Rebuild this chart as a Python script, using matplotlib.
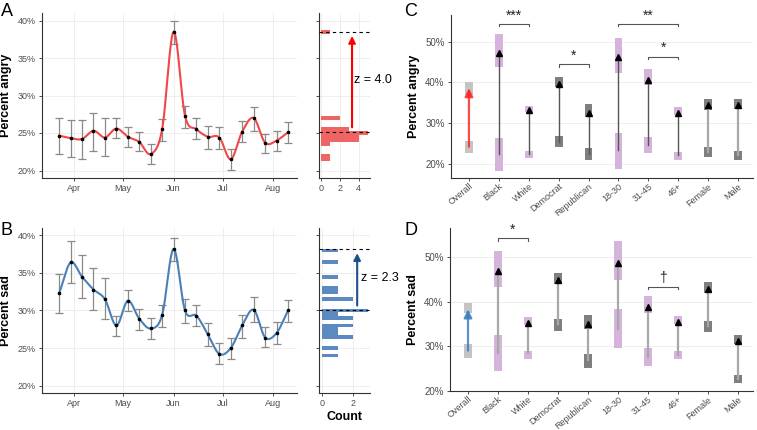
import numpy as np
import pandas as pd
import matplotlib
matplotlib.use("Agg")
import matplotlib.pyplot as plt
import matplotlib.dates as mdates
from matplotlib.ticker import FuncFormatter

plt.rcParams['font.family'] = ['Liberation Sans', 'DejaVu Sans']

# weekly estimates (panels A, B)
week_dates = ["2020-03-23", "2020-03-30", "2020-04-06", "2020-04-13", "2020-04-20", "2020-04-27",
              "2020-05-04", "2020-05-11", "2020-05-18", "2020-05-25", "2020-06-01", "2020-06-08",
              "2020-06-15", "2020-06-22", "2020-06-29", "2020-07-06", "2020-07-13", "2020-07-20",
              "2020-07-27", "2020-08-03", "2020-08-10"]
angry_pct = [24.65, 24.3, 24.2, 25.3, 24.4, 25.6, 24.5, 23.8, 22.2, 25.5, 38.5,
             27.3, 25.5, 24.5, 24.4, 21.5, 25.2, 27.0, 23.7, 24.0, 25.1]
angry_lo = [22.2, 21.8, 21.6, 22.6, 21.9, 24.3, 23.1, 22.6, 20.9, 24.0, 36.9,
            25.7, 24.2, 22.9, 22.9, 20.1, 23.8, 25.3, 22.4, 22.6, 23.7]
angry_hi = [27.0, 26.8, 26.7, 27.7, 27.0, 27.0, 25.8, 25.1, 23.5, 26.9, 40.0,
            28.6, 27.0, 25.9, 25.8, 22.9, 26.6, 28.5, 24.9, 25.3, 26.5]
sad_pct = [32.3, 36.4, 34.5, 32.8, 31.5, 28.0, 31.3, 28.9, 27.6, 29.4, 38.2,
           30.0, 29.3, 26.8, 24.2, 25.0, 28.0, 30.1, 26.4, 27.0, 30.0]
sad_lo = [29.7, 33.6, 31.7, 30.1, 28.8, 26.6, 29.9, 27.4, 26.2, 27.8, 36.6,
          28.4, 27.9, 25.3, 22.8, 23.5, 26.4, 28.5, 25.1, 25.5, 28.5]
sad_hi = [34.8, 39.2, 37.4, 35.6, 34.3, 29.2, 32.8, 30.2, 29.0, 30.7, 39.7,
          31.5, 30.7, 28.3, 25.6, 26.4, 29.4, 31.8, 27.8, 28.5, 31.4]

# histograms of weekly values (bin centres, 0.5-point bins)
angry_bins = [38.5, 27.0, 25.5, 25.0, 24.5, 24.0, 23.5, 22.0, 21.5]
angry_counts = [1, 2, 3, 5, 4, 4, 1, 1, 1]
sad_bins = [38.0, 36.5, 34.5, 33.0, 32.5, 31.5, 30.0, 29.5, 29.0, 28.0, 27.5, 27.0, 26.5, 25.0, 24.0]
sad_counts = [1, 1, 1, 1, 1, 2, 3, 1, 2, 2, 1, 1, 2, 1, 1]
angry_peak, angry_base, angry_z = 38.5, 25.2, "z = 4.0"
sad_peak, sad_base, sad_z = 38.2, 30.1, "z = 2.3"

# before / after by group (panels C, D)
groups = ["Overall", "Black", "White", "Democrat", "Republican", "18-30", "31-45", "46+", "Female", "Male"]
group_kind = ["overall", "race", "race", "party", "party", "age", "age", "age", "gender", "gender"]

angry_before = [24.25, 22.5, 22.5, 25.5, 22.5, 23.4, 24.7, 22.2, 23.0, 22.2]
angry_before_lo = [22.6, 18.4, 21.6, 24.3, 21.0, 18.9, 22.8, 21.1, 21.7, 21.1]
angry_before_hi = [25.7, 26.5, 23.2, 26.8, 24.0, 27.5, 26.7, 22.9, 24.2, 23.3]
angry_after = [38.6, 47.3, 33.2, 39.6, 32.6, 46.1, 40.6, 32.6, 34.5, 34.5]
angry_after_lo = [36.9, 43.7, 32.8, 38.8, 31.6, 42.2, 39.3, 31.9, 33.2, 33.6]
angry_after_hi = [40.2, 51.9, 34.3, 41.4, 34.6, 50.9, 43.2, 33.9, 36.0, 36.0]
angry_change_sig = [True, True, True, True, True, True, True, True, False, False]
angry_brackets = [("Black", "White", 54.3, "***"), ("Democrat", "Republican", 44.4, "*"),
                  ("18-30", "46+", 54.3, "**"), ("31-45", "46+", 46.3, "*")]

sad_before = [29.0, 28.4, 28.4, 35.0, 26.8, 33.8, 27.5, 28.0, 34.6, 22.7]
sad_before_lo = [27.3, 24.4, 27.1, 33.5, 25.1, 29.5, 25.6, 27.1, 33.1, 21.6]
sad_before_hi = [30.5, 32.4, 28.8, 36.0, 28.3, 38.3, 29.5, 28.9, 35.6, 23.4]
sad_after = [38.3, 46.9, 35.2, 44.8, 35.0, 48.7, 38.9, 35.5, 42.9, 31.2]
sad_after_lo = [37.5, 43.4, 34.8, 44.1, 33.8, 44.9, 37.5, 35.0, 42.0, 30.5]
sad_after_hi = [39.7, 51.5, 36.5, 46.5, 37.0, 53.6, 41.4, 36.8, 44.5, 32.6]
sad_change_sig = [False] * 10
sad_brackets = [("Black", "White", 54.3, "*"), ("31-45", "46+", 43.4, "\u2020")]

KIND_COLORS = {"overall": "#c4c4c4", "race": "#d4b4da", "age": "#d4b4da",
               "party": "#7f7f7f", "gender": "#7f7f7f"}
AXIS_COL = "#333333"
TICK_COL = "#4d4d4d"
GRID_COL = "#ebebeb"

W, H = 757, 430
fig = plt.figure(figsize=(W / 100, H / 100), dpi=100)


def px_axes(x0, y0, x1, y1):
    """Axes from pixel box, y measured from the top."""
    return fig.add_axes([x0 / W, (H - y1) / H, (x1 - x0) / W, (y1 - y0) / H])


def style_axes(ax, labelsize=6.5):
    for s in ["top", "right"]:
        ax.spines[s].set_visible(False)
    for s in ["left", "bottom"]:
        ax.spines[s].set_color(AXIS_COL)
        ax.spines[s].set_linewidth(0.8)
    ax.tick_params(labelsize=labelsize, labelcolor=TICK_COL, color=AXIS_COL,
                   length=2.5, width=0.6, pad=2)
    ax.set_axisbelow(True)


def catmull_rom(xs, ys, steps=20):
    xs = np.asarray(xs, float)
    ys = np.asarray(ys, float)
    px = np.concatenate([[2 * xs[0] - xs[1]], xs, [2 * xs[-1] - xs[-2]]])
    py = np.concatenate([[2 * ys[0] - ys[1]], ys, [2 * ys[-1] - ys[-2]]])
    t = np.linspace(0, 1, steps, endpoint=False)
    cx, cy = [], []
    for i in range(1, len(px) - 2):
        for p, out in ((px, cx), (py, cy)):
            p0, p1, p2, p3 = p[i - 1], p[i], p[i + 1], p[i + 2]
            out.append(0.5 * (2 * p1 + (-p0 + p2) * t + (2 * p0 - 5 * p1 + 4 * p2 - p3) * t ** 2
                              + (-p0 + 3 * p1 - 3 * p2 + p3) * t ** 3))
    cx.append([xs[-1]])
    cy.append([ys[-1]])
    return np.concatenate(cx), np.concatenate(cy)


pct_fmt = FuncFormatter(lambda v, _: f"{v:.0f}%")


def plot_weekly(ax, pct, lo, hi, line_color, ylabel):
    dates = pd.to_datetime(week_dates)
    pct = np.array(pct)
    ax.errorbar(dates, pct, yerr=[pct - np.array(lo), np.array(hi) - pct], fmt="none",
                ecolor="#8a8a8a", elinewidth=0.9, capsize=3.2, capthick=0.9, zorder=2)
    sx, sy = catmull_rom(mdates.date2num(dates), pct)
    ax.plot(mdates.num2date(sx), sy, color=line_color, lw=1.5, zorder=3)
    ax.plot(dates, pct, "o", ms=1.6, color="black", zorder=4)
    ax.set_xlim(pd.Timestamp("2020-03-12 12:00"), pd.Timestamp("2020-08-15 12:00"))
    ax.set_ylim(19.0, 41.0)
    ax.set_yticks([20, 25, 30, 35, 40])
    ax.yaxis.set_major_formatter(pct_fmt)
    ax.xaxis.set_major_locator(mdates.MonthLocator(bymonth=[4, 5, 6, 7, 8]))
    ax.xaxis.set_major_formatter(mdates.DateFormatter("%b"))
    ax.grid(True, color=GRID_COL, lw=0.6)
    style_axes(ax)
    ax.set_ylabel(ylabel, fontsize=9, fontweight="bold", labelpad=4)


def plot_hist(ax, bins, counts, bar_color, peak, base, arrow_color, arrow_x, ztext, xmax, xticks):
    ax.barh(bins, counts, height=0.5, color=bar_color, zorder=2)
    ax.axhline(peak, color="black", ls=(0, (3, 3)), lw=0.8, zorder=3)
    ax.axhline(base, color="black", ls=(0, (3, 3)), lw=0.8, zorder=3)
    ax.annotate("", xy=(arrow_x, peak), xytext=(arrow_x, base),
                arrowprops=dict(arrowstyle="-|>", color=arrow_color, lw=1.5,
                                mutation_scale=10, shrinkA=3, shrinkB=3), zorder=4)
    ax.text(arrow_x + 0.25, (peak + base) / 2 + 0.2, ztext, fontsize=9, ha="left", va="center",
            clip_on=False)
    ax.set_ylim(19.0, 41.0)
    ax.set_xlim(-0.2, xmax)
    ax.set_yticks([20, 25, 30, 35, 40])
    ax.set_yticklabels([])
    ax.set_xticks(xticks)
    ax.grid(True, color=GRID_COL, lw=0.6)
    style_axes(ax)


def plot_groups(ax, before, b_lo, b_hi, after, a_lo, a_hi, sig, arrow_color, brackets, ylabel, ylim):
    xs = np.arange(1, len(groups) + 1)
    for i, x in enumerate(xs):
        col = KIND_COLORS[group_kind[i]]
        ax.bar(x, b_hi[i] - b_lo[i], bottom=b_lo[i], width=0.26, color=col, zorder=2)
        ax.bar(x, a_hi[i] - a_lo[i], bottom=a_lo[i], width=0.26, color=col, zorder=2)
        if group_kind[i] == "overall":
            ax.annotate("", xy=(x, after[i]), xytext=(x, before[i]),
                        arrowprops=dict(arrowstyle="-|>", color=arrow_color, lw=1.6,
                                        mutation_scale=12, shrinkA=0, shrinkB=0, alpha=0.85),
                        zorder=3)
        else:
            if sig[i]:
                ax.plot([x, x], [before[i], after[i]], color="#555555", lw=1.0, zorder=3)
            else:
                ax.plot([x, x], [before[i], after[i]], color="#a8a8a8", lw=1.6, zorder=3)
            ax.plot(x, after[i], "^", ms=4.2, color="black", zorder=4)
    for g1, g2, y, label in brackets:
        x1 = groups.index(g1) + 1
        x2 = groups.index(g2) + 1
        ax.plot([x1, x1, x2, x2], [y - 0.6, y, y, y - 0.6], color="#555555", lw=0.8, zorder=3)
        ax.text((x1 + x2) / 2, y + 0.4, label, ha="center", va="bottom", fontsize=10,
                color="#222222")
    ax.set_xlim(0.4, 10.5)
    ax.set_ylim(*ylim)
    ax.set_xticks(xs)
    ax.set_xticklabels(groups, rotation=40, ha="right", va="top", rotation_mode="anchor")
    ax.set_yticks([20, 30, 40, 50])
    ax.yaxis.set_major_formatter(pct_fmt)
    ax.yaxis.grid(True, color=GRID_COL, lw=0.6)
    style_axes(ax, labelsize=6.5)
    ax.tick_params(axis="x", length=2, pad=0.8)
    ax.tick_params(axis="y", labelsize=7)
    ax.set_ylabel(ylabel, fontsize=9, fontweight="bold", labelpad=4)


ax_a = px_axes(42, 13, 297, 178)
plot_weekly(ax_a, angry_pct, angry_lo, angry_hi, "#f04848", "Percent angry")
ax_ah = px_axes(319, 13, 370, 178)
plot_hist(ax_ah, angry_bins, angry_counts, "#f16464", angry_peak, angry_base, "#ff0000",
          3.3, angry_z, 5.2, [0, 2, 4])

ax_b = px_axes(42, 228, 297, 393)
plot_weekly(ax_b, sad_pct, sad_lo, sad_hi, "#4a80b8", "Percent sad")
ax_bh = px_axes(319, 228, 370, 393)
plot_hist(ax_bh, sad_bins, sad_counts, "#5b89c0", sad_peak, sad_base, "#1f4e8c",
          2.27, sad_z, 3.1, [0, 2])
ax_bh.set_xlabel("Count", fontsize=9, fontweight="bold", labelpad=2)

ax_c = px_axes(451, 15, 753, 178)
plot_groups(ax_c, angry_before, angry_before_lo, angry_before_hi, angry_after, angry_after_lo,
            angry_after_hi, angry_change_sig, "#ff2a2a", angry_brackets, "Percent angry", (16.6, 56.5))
ax_d = px_axes(450, 228, 753, 391)
plot_groups(ax_d, sad_before, sad_before_lo, sad_before_hi, sad_after, sad_after_lo,
            sad_after_hi, sad_change_sig, "#3f7fc0", sad_brackets, "Percent sad", (19.9, 56.6))

for letter, x, y in [("A", 1, 3), ("B", 1, 222), ("C", 404, 3), ("D", 404, 222)]:
    fig.text(x / W, 1 - y / H, letter, fontsize=13, ha="left", va="top")

fig.savefig("out.png", dpi=100)
